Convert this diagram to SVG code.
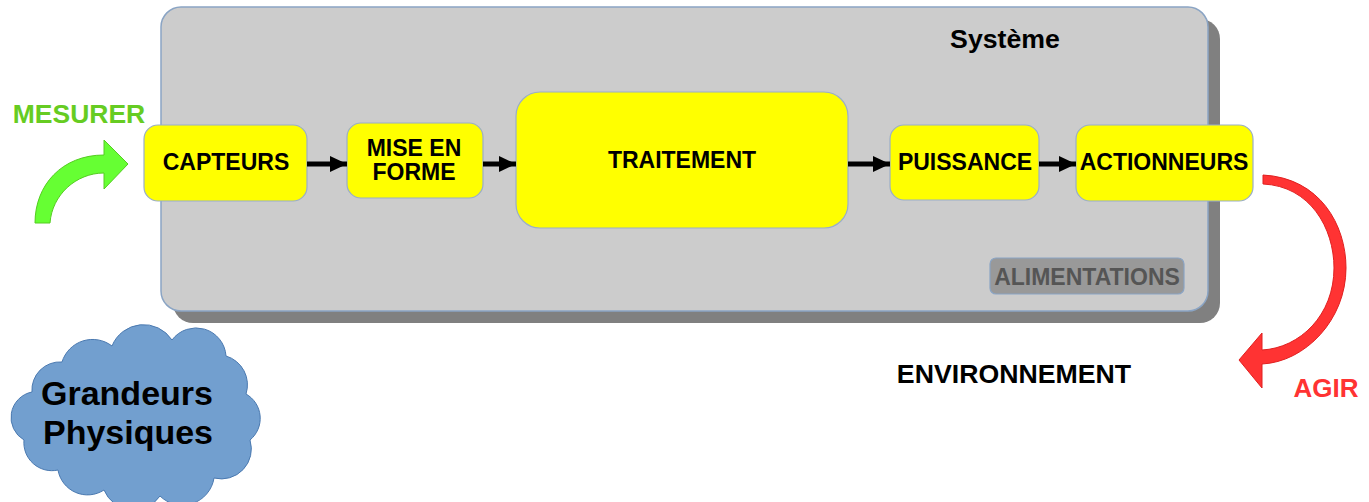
<svg xmlns="http://www.w3.org/2000/svg" width="1369" height="502" viewBox="0 0 1369 502">
<style>
.lbl{font-family:"Liberation Sans",Arial,sans-serif;font-weight:bold;fill:#000;text-anchor:middle}
.node{fill:#ffff00;stroke:#9aaec8;stroke-width:1.2}
.conn{stroke:#000;stroke-width:5;fill:none}
</style>
<defs>
<marker id="ah" markerUnits="userSpaceOnUse" markerWidth="18" markerHeight="18" refX="17" refY="8" orient="auto">
<path d="M0,0 L17,8 L0,16 Z" fill="#000"/>
</marker>
</defs>
<rect width="1369" height="502" fill="#fff"/>
<g id="systeme">
<rect x="173" y="19" width="1047" height="304" rx="20" fill="#808080"/>
<rect x="161" y="7" width="1047" height="304" rx="20" fill="#cccccc" stroke="#8aa4c4" stroke-width="1.5"/>
<text class="lbl" x="1005" y="48" font-size="26.7">Système</text>
</g>
<g id="capteurs">
<rect class="node" x="144" y="125" width="163" height="76" rx="14"/>
<text class="lbl" x="226" y="170" font-size="23">CAPTEURS</text>
</g>
<g id="mise-en-forme">
<rect class="node" x="347" y="123" width="136" height="75" rx="14"/>
<text class="lbl" x="414" y="156" font-size="23">MISE EN</text>
<text class="lbl" x="414" y="180" font-size="23">FORME</text>
</g>
<g id="traitement">
<rect class="node" x="516" y="92" width="332" height="136" rx="24"/>
<text class="lbl" x="682" y="168" font-size="23">TRAITEMENT</text>
</g>
<g id="puissance">
<rect class="node" x="890" y="125" width="149" height="75" rx="14"/>
<text class="lbl" x="965" y="170" font-size="23">PUISSANCE</text>
</g>
<g id="actionneurs">
<rect class="node" x="1076" y="125" width="177" height="76" rx="14"/>
<text class="lbl" x="1164" y="170" font-size="23">ACTIONNEURS</text>
</g>
<g id="alimentations">
<rect x="990" y="258" width="194" height="36" rx="6" fill="#999999" stroke="#8aa4c4" stroke-width="1.2"/>
<text class="lbl" x="1087" y="285" font-size="23" style="fill:#555555">ALIMENTATIONS</text>
</g>
<g id="connectors">
<line class="conn" x1="307" y1="164" x2="347" y2="164" marker-end="url(#ah)"/>
<line class="conn" x1="483" y1="164" x2="516" y2="164" marker-end="url(#ah)"/>
<line class="conn" x1="848" y1="164" x2="890" y2="164" marker-end="url(#ah)"/>
<line class="conn" x1="1039" y1="164" x2="1076" y2="164" marker-end="url(#ah)"/>
</g>
<g id="mesurer">
<path d="M35,223 C35,185 62,155 104,155 L104,140 L128,164 L104,189 L104,173 C76,173 52,195 50,223 Z" fill="#66ff33" stroke="#55cc22" stroke-width="1"/>
<text class="lbl" x="79" y="123" font-size="26.5" style="fill:#66cc22">MESURER</text>
</g>
<g id="agir">
<path d="M1263,175 C1320,178 1346,225 1346,268 C1346,320 1305,362 1262,364 L1262,388 L1239,360 L1262,333 L1262,350 C1300,348 1334,315 1334,268 C1334,228 1310,186 1263,184 Z" fill="#ff3333" stroke="#e02020" stroke-width="1"/>
<text class="lbl" x="1326" y="397" font-size="26" style="fill:#ff3333">AGIR</text>
</g>
<g id="environnement">
<text class="lbl" x="1014" y="383" font-size="26.7">ENVIRONNEMENT</text>
</g>
<g id="grandeurs">
<path d="M32,392 A28,28 0 0 1 62,362 A32,32 0 0 1 112,346 A34,34 0 0 1 172,340 A30,30 0 0 1 226,356 A30,30 0 0 1 246,394 A28,28 0 0 1 250,440 A30,30 0 0 1 214,478 A32,32 0 0 1 160,496 A32,32 0 0 1 104,490 A30,30 0 0 1 58,470 A28,28 0 0 1 24,440 A26,26 0 0 1 32,392 Z" fill="#729fcf" stroke="#4a79b0" stroke-width="1"/>
<text class="lbl" x="127" y="405" font-size="34">Grandeurs</text>
<text class="lbl" x="128" y="444" font-size="34">Physiques</text>
</g>
</svg>
